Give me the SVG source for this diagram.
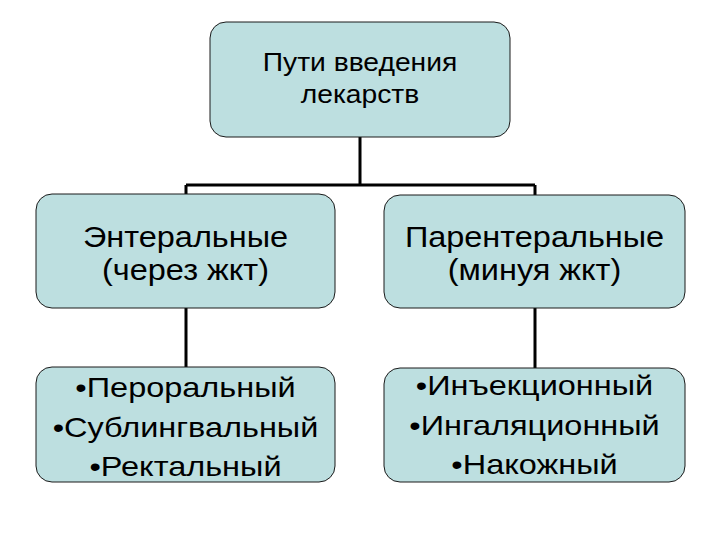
<svg xmlns="http://www.w3.org/2000/svg" width="720" height="540" viewBox="0 0 720 540">
<style>
.box{fill:#bddfe0;stroke:#1a1a1a;stroke-width:1}
.t{font-family:"Liberation Sans",Arial,sans-serif;fill:#000;text-anchor:middle}
.t1{font-size:25px}
.t2{font-size:29px}
.t3{font-size:28px}
.line{stroke:#000;stroke-width:3;fill:none}
</style>
<rect width="720" height="540" fill="#fff"/>
<g id="connectors">
<path class="line" d="M360 137V185M186 185H535M186 185V194M535 185V195M186 308V367M535 308V368"/>
</g>
<g id="root">
<rect class="box" x="210" y="22" width="300" height="115" rx="16"/>
<g transform="translate(360 0) scale(1.13 1)">
<text class="t t1" x="0" y="71">Пути введения</text>
<text class="t t1" x="0" y="103">лекарств</text>
</g>
</g>
<g id="enteral">
<rect class="box" x="36" y="194" width="299" height="114" rx="16"/>
<g transform="translate(185.5 0) scale(1.12 1)">
<text class="t t2" x="0" y="247">Энтеральные</text>
<text class="t t2" x="0" y="280">(через жкт)</text>
</g>
</g>
<g id="parenteral">
<rect class="box" x="384" y="195" width="301" height="113" rx="16"/>
<g transform="translate(534.5 0) scale(1.12 1)">
<text class="t t2" x="0" y="247">Парентеральные</text>
<text class="t t2" x="0" y="280">(минуя жкт)</text>
</g>
</g>
<g id="enteral-list">
<rect class="box" x="36" y="367" width="299" height="115" rx="16"/>
<g transform="translate(185.5 0) scale(1.16 1)">
<text class="t t3" x="0" y="397">•Пероральный</text>
<text class="t t3" x="0" y="437">•Сублингвальный</text>
<text class="t t3" x="0" y="476">•Ректальный</text>
</g>
</g>
<g id="parenteral-list">
<rect class="box" x="384" y="368" width="301" height="114" rx="16"/>
<g transform="translate(534.5 0) scale(1.16 1)">
<text class="t t3" x="0" y="395">•Инъекционный</text>
<text class="t t3" x="0" y="435">•Ингаляционный</text>
<text class="t t3" x="0" y="474">•Накожный</text>
</g>
</g>
</svg>
